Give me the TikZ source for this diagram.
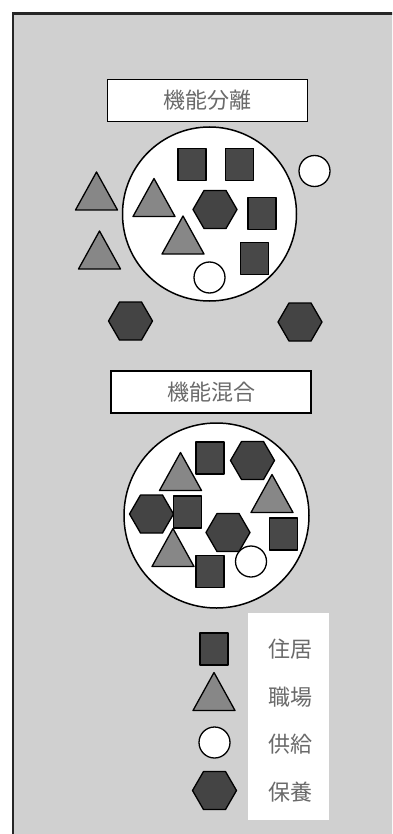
\documentclass[tikz,border=0pt]{standalone}
\usepackage{fontspec}
\newfontfamily\cjk{Noto Sans CJK JP}
\definecolor{bg}{HTML}{D0D0D0}
\definecolor{sqcol}{HTML}{484848}
\definecolor{hexcol}{HTML}{444444}
\definecolor{tricol}{HTML}{878787}
\definecolor{txtcol}{HTML}{6A6A6A}
\tikzset{
  x=1pt, y=-1pt,
  outl/.style={draw=black, line width=1.3pt, line join=round},
  pics/sqr/.style={code={\draw[outl, fill=sqcol] (-14,-16) rectangle (14,16);}},
  pics/hexa/.style={code={\draw[outl, fill=hexcol] (-22,0) -- (-11,-19) -- (11,-19) -- (22,0) -- (11,19) -- (-11,19) -- cycle;}},
  pics/tri/.style={code={\draw[outl, fill=tricol] (0,-19) -- (21,19) -- (-21,19) -- cycle;}},
  pics/ring/.style={code={\draw[outl, fill=white] (0,0) circle[radius=15.5];}},
  bigcirc/.style={draw=black, line width=1.5pt, fill=white},
  titlebox/.style={draw=black, line width=1.8pt, fill=white, minimum width=200pt, minimum height=42pt, inner sep=0pt, font=\cjk\fontsize{22}{22}\selectfont, text=txtcol},
  legtxt/.style={font=\cjk\fontsize{22}{22}\selectfont, text=txtcol, inner sep=0pt}
}
\begin{document}
\begin{tikzpicture}
\useasboundingbox (0,0) rectangle (392,834);
\clip (0,0) rectangle (392,834);
\fill[white] (0,0) rectangle (392,834);
\draw[fill=bg, line width=2.5pt, draw=black!85] (13,13.5) rectangle (420,860);

% --- function separation ---
\node[titlebox] (t1) at (207.5,100.5) {機能分離};
\draw[bigcirc] (209.5,214) circle[radius=87];
\pic at (192,164.5) {sqr};
\pic at (239.5,164.5) {sqr};
\pic at (262,213.5) {sqr};
\pic at (254.5,258.5) {sqr};
\pic at (215,209.5) {hexa};
\pic at (154,197.5) {tri};
\pic at (183,235) {tri};
\pic at (209.5,277.5) {ring};
\pic at (314.5,171) {ring};
\pic at (96.5,191) {tri};
\pic at (99.5,250) {tri};
\pic at (130.5,321) {hexa};
\pic at (300,322) {hexa};

% --- function mixing ---
\node[titlebox] (t2) at (211,392) {機能混合};
\draw[bigcirc] (216.5,515.5) circle[radius=92.5];
\pic at (180.5,471.5) {tri};
\pic at (210,458) {sqr};
\pic at (252.5,460.5) {hexa};
\pic at (272,493.5) {tri};
\pic at (151.5,514) {hexa};
\pic at (187.5,512) {sqr};
\pic at (228,532.5) {hexa};
\pic at (283.5,534) {sqr};
\pic at (173,547.5) {tri};
\pic at (210,571.5) {sqr};
\pic at (251,561.5) {ring};

% --- legend ---
\fill[white] (248,613) rectangle (329,820);
\pic at (214,649) {sqr};
\pic at (214,691.5) {tri};
\pic at (214.5,742.5) {ring};
\pic at (214.5,790.5) {hexa};
\node[legtxt] (l1) at (290,649) {住居};
\node[legtxt] (l2) at (290,697.5) {職場};
\node[legtxt] (l3) at (290,744) {供給};
\node[legtxt] (l4) at (290,792) {保養};
\end{tikzpicture}
\end{document}
